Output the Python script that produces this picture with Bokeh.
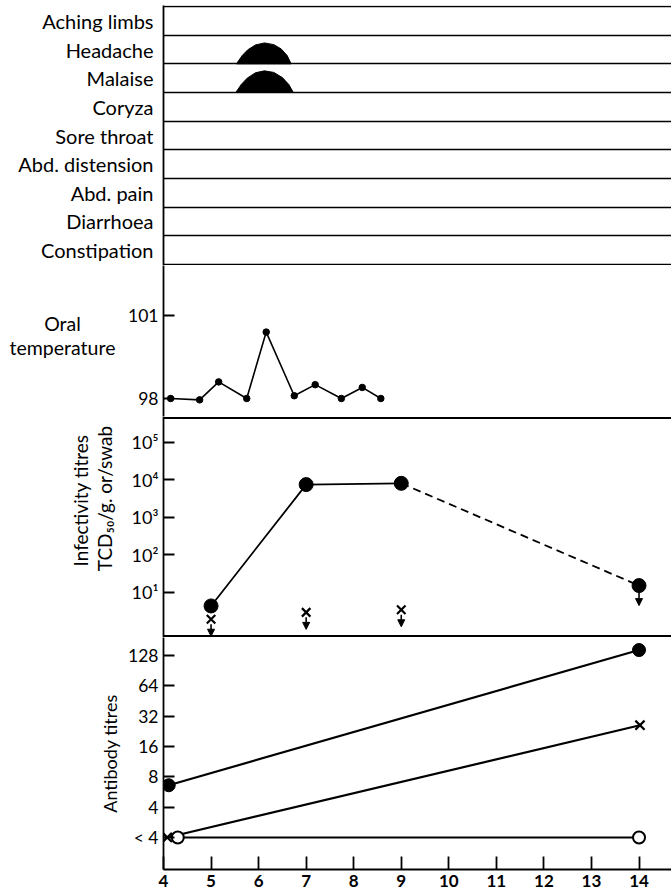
from math import pi
from bokeh.plotting import figure
from bokeh.layouts import column, row
from bokeh.models import Range1d, FixedTicker, Arrow, NormalHead, Span
from bokeh.core.properties import value
from bokeh.embed import file_html
from bokeh.resources import INLINE

# ---------------- data ----------------
symptoms = ["Aching limbs", "Headache", "Malaise", "Coryza", "Sore throat",
            "Abd. distension", "Abd. pain", "Diarrhoea", "Constipation"]
headache_day = [5.535, 5.655, 5.773, 5.935, 6.124, 6.32, 6.475, 6.6, 6.685]
headache_level = [0, 0.29, 0.49, 0.66, 0.73, 0.67, 0.52, 0.29, 0]
malaise_day = [5.52, 5.64, 5.76, 5.935, 6.124, 6.32, 6.5, 6.635, 6.73]
malaise_level = [0, 0.29, 0.50, 0.69, 0.755, 0.70, 0.52, 0.28, 0]

temp_day = [4.15, 4.76, 5.16, 5.75, 6.16, 6.75, 7.19, 7.74, 8.18, 8.57]
temp_f = [98.0, 97.95, 98.6, 98.0, 100.4, 98.1, 98.5, 98.0, 98.4, 98.0]
temp_ticks = [98, 101]
temp_title = ["Oral", "temperature"]

inf_day = [5, 7, 9, 14]
inf_titre = [4.3, 7.4e3, 8.0e3, 15]
inf_neg_day = [5, 7, 9]
inf_neg_titre = [1.9, 2.9, 3.4]
inf_ticks = [10, 100, 1000, 10000, 100000]
inf_tick_labels = ["10¹", "10²", "10³", "10⁴", "10⁵"]
inf_title = ["Infectivity titres", "TCD₅₀/g. or/swab"]

ab_filled_day = [4.11, 14.0]
ab_filled = [6.6, 145]
ab_cross_day = [4.08, 14.02]
ab_cross = [2, 26]
ab_open_day = [4.3, 14.0]
ab_open = [2, 2]
ab_ticks = [2, 4, 8, 16, 32, 64, 128]
ab_tick_labels = ["< 4", "4", "8", "16", "32", "64", "128"]

day_ticks = list(range(4, 15))

# ---------------- style ----------------
FONT = "Lato"
W = 671
LEFT = 163
LAB_W = 120
LW = 1.8
x_range = Range1d(4, 14.683)


def base_fig(width, height, y_range, left, y_axis_type="linear", top=0, bottom=0, xaxis=False):
    p = figure(width=width, height=height, x_range=x_range, y_range=y_range,
               y_axis_type=y_axis_type, output_backend="svg", toolbar_location=None,
               min_border_left=left, min_border_right=0, min_border_top=top,
               min_border_bottom=bottom, x_axis_location="below" if xaxis else None)
    p.outline_line_color = None
    p.grid.visible = False
    p.background_fill_color = "white"
    p.border_fill_color = "white"
    ax = p.yaxis[0]
    ax.axis_line_color = "black"
    ax.axis_line_width = LW
    ax.major_tick_line_color = "black"
    ax.major_tick_line_width = LW
    ax.major_tick_in = 11
    ax.major_tick_out = 0
    ax.minor_tick_line_color = None
    ax.major_label_text_font = FONT
    ax.major_label_text_font_size = "17.5px"
    ax.major_label_text_color = "black"
    ax.major_label_standoff = 5
    return p


def label_fig(height):
    q = figure(width=LAB_W, height=height, x_range=Range1d(0, LAB_W), y_range=Range1d(0, height),
               output_backend="svg", toolbar_location=None, min_border=0,
               x_axis_location=None, y_axis_location=None)
    q.outline_line_color = None
    q.grid.visible = False
    q.border_fill_color = "white"
    return q


# ---- symptoms panel ----
n = len(symptoms)
p1 = base_fig(W, 265, Range1d(-0.035, n + 0.035), LEFT, top=5)
p1.yaxis.ticker = FixedTicker(ticks=[n - i - 0.5 for i in range(n)])
p1.yaxis.major_label_overrides = {n - i - 0.5: s for i, s in enumerate(symptoms)}
p1.yaxis.major_tick_in = 0
p1.yaxis.major_label_standoff = 10
p1.yaxis.major_label_text_font_size = "20px"
p1.ygrid.visible = True
p1.ygrid.ticker = FixedTicker(ticks=list(range(n + 1)))
p1.ygrid.grid_line_color = "black"
p1.ygrid.grid_line_width = 1.6
for name, days, lev in [("Headache", headache_day, headache_level),
                        ("Malaise", malaise_day, malaise_level)]:
    row_base = n - 1 - symptoms.index(name)
    p1.patch(days, [row_base + v for v in lev], fill_color="black", line_color="black")

# ---- temperature panel ----
H2 = 151
p2 = base_fig(W - LAB_W, H2, Range1d(97.349, 102.807), LEFT - LAB_W)
p2.yaxis.ticker = FixedTicker(ticks=temp_ticks)
p2.line(temp_day, temp_f, line_color="black", line_width=1.6)
p2.scatter(temp_day, temp_f, size=6.5, marker="circle", color="black")
l2 = label_fig(H2)
l2.text(x=[62, 62], y=[H2 - 58, H2 - 82], text=temp_title, text_font=value(FONT),
        text_font_size="19.5px", text_align="center", text_baseline="middle",
        text_color="black")

# ---- infectivity panel ----
H3 = 221
p3 = base_fig(W - LAB_W, H3, Range1d(10 ** -0.208, 10 ** 5.685), LEFT - LAB_W, y_axis_type="log")
p3.yaxis.ticker = FixedTicker(ticks=inf_ticks)
p3.yaxis.major_label_overrides = dict(zip(inf_ticks, inf_tick_labels))
p3.yaxis.major_label_text_font_size = "18px"
for loc in (10 ** 5.645, 10 ** -0.168):
    p3.add_layout(Span(location=loc, dimension="width", line_color="black", line_width=2))
p3.line(inf_day[:3], inf_titre[:3], line_color="black", line_width=1.8)
p3.line(inf_day[2:], inf_titre[2:], line_color="black", line_width=1.8, line_dash="8 5")
p3.scatter(inf_day, inf_titre, size=14, marker="circle", color="black")
p3.scatter(inf_neg_day, inf_neg_titre, size=12, marker="x", line_color="black", line_width=2.2)
for d, v in zip(inf_neg_day, inf_neg_titre):
    p3.add_layout(Arrow(x_start=d, y_start=v * 10 ** (-5 / 37.5), x_end=d,
                        y_end=v * 10 ** (-17 / 37.5), line_width=1.6, line_color="black",
                        end=NormalHead(size=7, fill_color="black", line_color="black")))
p3.add_layout(Arrow(x_start=inf_day[-1], y_start=inf_titre[-1] * 10 ** (-6 / 37.5),
                    x_end=inf_day[-1], y_end=inf_titre[-1] * 10 ** (-20 / 37.5),
                    line_width=1.6, line_color="black",
                    end=NormalHead(size=7, fill_color="black", line_color="black")))
l3 = label_fig(H3)
l3.text(x=[80, 104], y=[H3 - 84, H3 - 82], text=inf_title, angle=pi / 2,
        text_font=value(FONT), text_font_size="19px", text_align="center",
        text_baseline="middle", text_color="black")

# ---- antibody panel ----
p4 = base_fig(W, 259, Range1d(2 ** -0.055, 2 ** 7.593), LEFT, y_axis_type="log", bottom=27, xaxis=True)
p4.yaxis.ticker = FixedTicker(ticks=ab_ticks)
p4.yaxis.major_label_overrides = dict(zip(ab_ticks, ab_tick_labels))
p4.yaxis.axis_label = "Antibody titres"
p4.yaxis.axis_label_text_font = FONT
p4.yaxis.axis_label_text_font_size = "18px"
p4.yaxis.axis_label_text_font_style = "normal"
p4.yaxis.axis_label_text_color = "black"
p4.yaxis.axis_label_standoff = 4
xa = p4.xaxis[0]
xa.ticker = FixedTicker(ticks=day_ticks)
xa.axis_line_color = "black"
xa.axis_line_width = LW
xa.major_tick_line_color = "black"
xa.major_tick_line_width = LW
xa.major_tick_in = 13
xa.major_tick_out = 0
xa.minor_tick_line_color = None
xa.major_label_text_font = FONT
xa.major_label_text_font_size = "17px"
xa.major_label_text_font_style = "bold"
xa.major_label_text_color = "black"
xa.major_label_standoff = 5

p4.line(ab_filled_day, ab_filled, line_color="black", line_width=2.2)
p4.line(ab_cross_day, ab_cross, line_color="black", line_width=2.2)
p4.line(ab_open_day, ab_open, line_color="black", line_width=2.2)
p4.scatter(ab_filled_day, ab_filled, size=13, marker="circle", color="black")
p4.scatter(ab_open_day, ab_open, size=12, marker="circle", fill_color="white",
           line_color="black", line_width=2)
p4.scatter(ab_cross_day, ab_cross, size=13, marker="x", line_color="black", line_width=2.2)

layout = column(p1, row(l2, p2, spacing=0), row(l3, p3, spacing=0), p4, spacing=0)
open("out.html", "w").write(file_html(layout, INLINE))
